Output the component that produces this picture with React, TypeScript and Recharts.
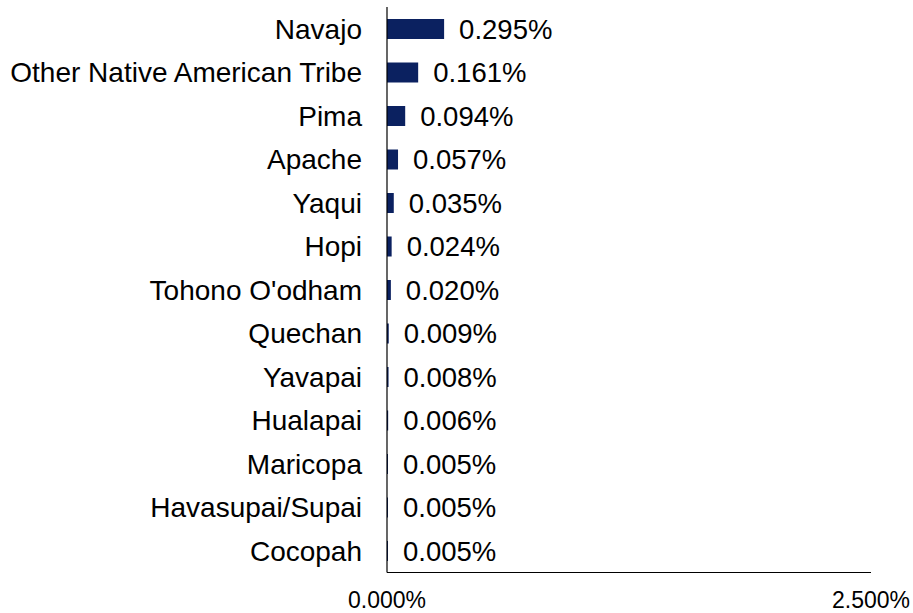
import React from "react";
import { BarChart, Bar, XAxis, YAxis, LabelList } from "recharts";

const tribes = [
  "Navajo",
  "Other Native American Tribe",
  "Pima",
  "Apache",
  "Yaqui",
  "Hopi",
  "Tohono O'odham",
  "Quechan",
  "Yavapai",
  "Hualapai",
  "Maricopa",
  "Havasupai/Supai",
  "Cocopah",
];

// share of population, in percent
const shares = [0.295, 0.161, 0.094, 0.057, 0.035, 0.024, 0.02, 0.009, 0.008, 0.006, 0.005, 0.005, 0.005];

const xTicks = [0, 2.5];

const FONT = "'Liberation Sans', Arial, sans-serif";
const BAR_COLOR = "#0b2160";

const data = tribes.map((name, i) => ({ name, value: shares[i] }));

const pct = (v: number) => `${Number(v).toFixed(3)}%`;

export default function App() {
  return (
    <div style={{ position: "absolute", left: 0, top: 0, background: "#fff" }}>
      <BarChart
        width={913}
        height={613}
        data={data}
        layout="vertical"
        margin={{ top: 7, right: 42, bottom: 0.5, left: 0 }}
        barCategoryGap={0}
      >
        <XAxis
          type="number"
          domain={[0, 2.5]}
          ticks={xTicks}
          interval={0}
          tickFormatter={pct}
          height={40}
          axisLine={{ stroke: "#000", strokeWidth: 1.2 }}
          tickLine={false}
          tickSize={0}
          tickMargin={19}
          tick={{ fill: "#000", fontSize: 23, fontFamily: FONT }}
        />
        <YAxis
          type="category"
          dataKey="name"
          width={387}
          interval={0}
          axisLine={{ stroke: "#000", strokeWidth: 1.2 }}
          tickLine={false}
          tickSize={0}
          tickMargin={25}
          tick={{ fill: "#000", fontSize: 28, fontFamily: FONT }}
        />
        <Bar dataKey="value" fill={BAR_COLOR} barSize={20} isAnimationActive={false}>
          <LabelList
            dataKey="value"
            position="right"
            offset={15}
            formatter={(v: any) => pct(v)}
            style={{ fill: "#000", fontSize: 27.5, fontFamily: FONT }}
          />
        </Bar>
      </BarChart>
    </div>
  );
}
